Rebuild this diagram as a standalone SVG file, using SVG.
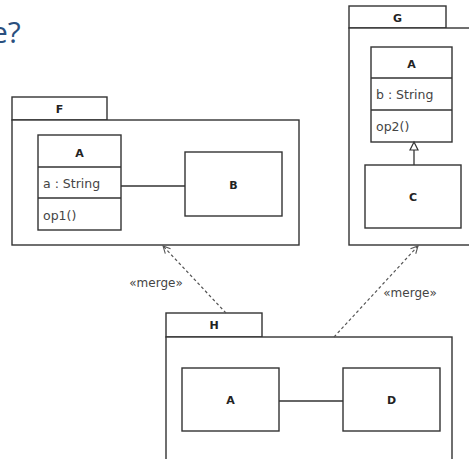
<svg xmlns="http://www.w3.org/2000/svg" width="469" height="459" viewBox="0 0 469 459">
<defs>
<style>
.box{fill:#fff;stroke:#333;stroke-width:1.4}
.ln{fill:none;stroke:#333;stroke-width:1.3}
.dash{fill:none;stroke:#555;stroke-width:1.2;stroke-dasharray:3,2.5}
.nm{font-family:"DejaVu Sans",Verdana,sans-serif;font-size:11px;font-weight:bold;fill:#222;text-anchor:middle}
.at{font-family:"DejaVu Sans",Verdana,sans-serif;font-size:12.5px;fill:#444}
.lbl{font-family:"DejaVu Sans",Verdana,sans-serif;font-size:12px;fill:#444;text-anchor:middle}
.title{font-family:"Open Sans","Noto Sans",sans-serif;font-size:30px;fill:#2a4f7e}
</style>
<marker id="open" viewBox="0 0 10 10" refX="9" refY="5" markerWidth="9" markerHeight="9" orient="auto" markerUnits="userSpaceOnUse">
<path d="M1,1 L9,5 L1,9" fill="none" stroke="#555" stroke-width="1.2"/>
</marker>
</defs>
<rect width="469" height="459" fill="#fff"/>
<text class="title" x="-9" y="43">e?</text>

<g id="pkgF">
<rect class="box" x="12" y="97" width="95" height="23"/>
<text class="nm" x="59.5" y="113">F</text>
<rect class="box" x="12" y="120" width="287" height="125"/>
</g>
<g id="F_A">
<rect class="box" x="38" y="135" width="83" height="95"/>
<line class="ln" x1="38" y1="167" x2="121" y2="167"/>
<line class="ln" x1="38" y1="198" x2="121" y2="198"/>
<text class="nm" x="79.5" y="157">A</text>
<text class="at" x="43" y="188">a : String</text>
<text class="at" x="43" y="220">op1()</text>
</g>
<g id="F_B">
<rect class="box" x="185" y="152" width="97" height="64"/>
<text class="nm" x="233.5" y="189">B</text>
</g>

<g id="pkgG">
<rect class="box" x="349" y="6" width="97" height="22"/>
<text class="nm" x="397.5" y="22">G</text>
<rect class="box" x="349" y="28" width="130" height="217"/>
</g>
<g id="G_A">
<rect class="box" x="371" y="47" width="81" height="95"/>
<line class="ln" x1="371" y1="78" x2="452" y2="78"/>
<line class="ln" x1="371" y1="110" x2="452" y2="110"/>
<text class="nm" x="411.5" y="68">A</text>
<text class="at" x="376" y="99">b : String</text>
<text class="at" x="376" y="131">op2()</text>
</g>
<g id="G_C">
<rect class="box" x="365" y="165" width="96" height="63"/>
<text class="nm" x="413" y="201">C</text>
</g>

<g id="pkgH">
<rect class="box" x="166" y="313" width="96" height="24"/>
<text class="nm" x="214" y="329">H</text>
<rect class="box" x="166" y="337" width="286" height="130"/>
</g>
<g id="H_A">
<rect class="box" x="182" y="368" width="97" height="63"/>
<text class="nm" x="230.5" y="404">A</text>
</g>
<g id="H_D">
<rect class="box" x="343" y="368" width="97" height="63"/>
<text class="nm" x="391.5" y="404">D</text>
</g>

<g id="connectors">
<line class="ln" x1="121" y1="186" x2="185" y2="186"/>
<line class="ln" x1="414" y1="165" x2="414" y2="150"/>
<path d="M414,142 L418,150 L410,150 Z" fill="#fff" stroke="#333" stroke-width="1.2"/>
<line class="ln" x1="279" y1="401" x2="343" y2="401"/>
<line class="dash" x1="226" y1="313" x2="163" y2="246" marker-end="url(#open)"/>
<line class="dash" x1="334" y1="337" x2="418" y2="246" marker-end="url(#open)"/>
<text class="lbl" x="156" y="287">«merge»</text>
<text class="lbl" x="410" y="297">«merge»</text>
</g>
</svg>
